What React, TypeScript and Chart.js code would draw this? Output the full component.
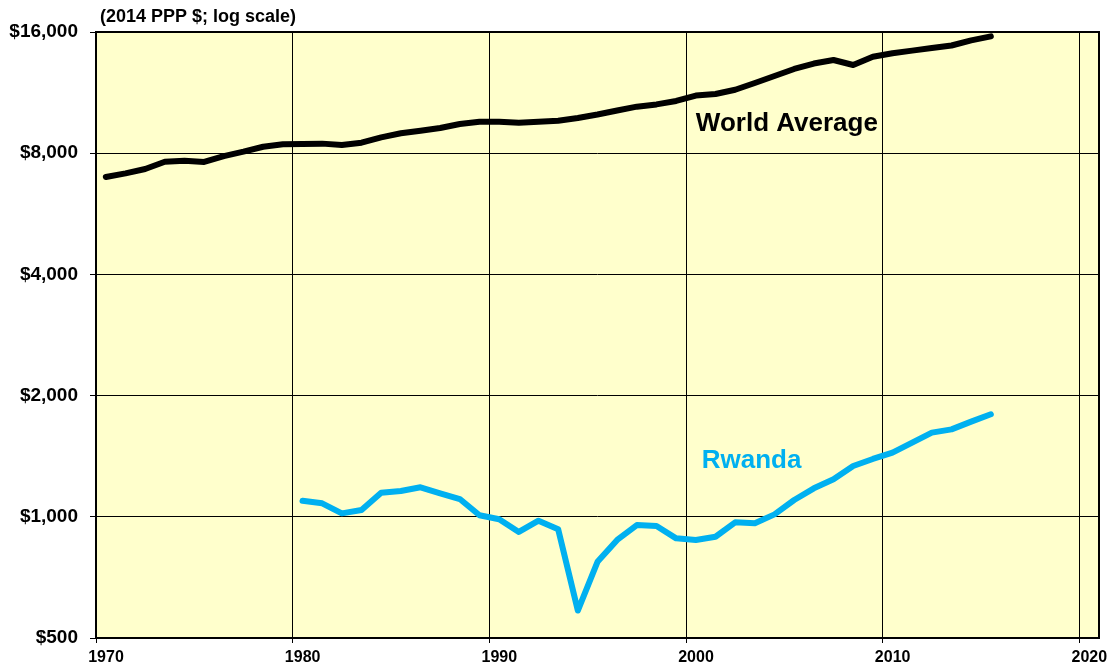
import React, { useEffect, useRef } from "react";
import { Chart, registerables } from "chart.js";

Chart.register(...registerables);

const years: number[] = [
  1970.5, 1971.5, 1972.5, 1973.5, 1974.5, 1975.5, 1976.5, 1977.5, 1978.5, 1979.5,
  1980.5, 1981.5, 1982.5, 1983.5, 1984.5, 1985.5, 1986.5, 1987.5, 1988.5, 1989.5,
  1990.5, 1991.5, 1992.5, 1993.5, 1994.5, 1995.5, 1996.5, 1997.5, 1998.5, 1999.5,
  2000.5, 2001.5, 2002.5, 2003.5, 2004.5, 2005.5, 2006.5, 2007.5, 2008.5, 2009.5,
  2010.5, 2011.5, 2012.5, 2013.5, 2014.5, 2015.5,
];

const worldAverage: number[] = [
  6980, 7130, 7310, 7620, 7665, 7610, 7870, 8070, 8300, 8420,
  8430, 8450, 8385, 8495, 8760, 8965, 9100, 9240, 9455, 9580,
  9580, 9525, 9580, 9635, 9785, 9980, 10210, 10440, 10575, 10785,
  11125, 11225, 11500, 11950, 12440, 12950, 13360, 13630, 13250, 13890,
  14165, 14385, 14600, 14810, 15250, 15610,
];

const rwandaYears: number[] = [
  1980.5, 1981.5, 1982.5, 1983.5, 1984.5, 1985.5, 1986.5, 1987.5, 1988.5, 1989.5,
  1990.5, 1991.5, 1992.5, 1993.5, 1994.5, 1995.5, 1996.5, 1997.5, 1998.5, 1999.5,
  2000.5, 2001.5, 2002.5, 2003.5, 2004.5, 2005.5, 2006.5, 2007.5, 2008.5, 2009.5,
  2010.5, 2011.5, 2012.5, 2013.5, 2014.5, 2015.5,
];

const rwanda: number[] = [
  1096, 1080, 1020, 1040, 1148, 1159, 1184, 1144, 1107, 1009,
  986, 917, 978, 931, 585, 773, 876, 954, 949, 884,
  876, 892, 969, 964, 1014, 1101, 1177, 1239, 1337, 1392,
  1443, 1528, 1618, 1649, 1723, 1797,
];

const yTicks: number[] = [500, 1000, 2000, 4000, 8000, 16000];
const xTicks: number[] = [1970, 1980, 1990, 2000, 2010, 2020];

const titleText = "(2014 PPP $; log scale)";
const worldLabel = { text: "World Average", x: 2000.5, y: 9455 };
const rwandaLabel = { text: "Rwanda", x: 2000.8, y: 1376 };

const FONT = "'Liberation Sans', Arial, Helvetica, sans-serif";
const BLUE = "#00B0F0";

export default function App() {
  const ref = useRef<HTMLCanvasElement | null>(null);

  useEffect(() => {
    if (!ref.current) return;
    const bgPlugin = {
      id: "bgFrame",
      beforeDraw(chart: any) {
        const { ctx, chartArea } = chart;
        ctx.save();
        ctx.fillStyle = "#FFFFCC";
        ctx.fillRect(chartArea.left, chartArea.top, chartArea.right - chartArea.left, chartArea.bottom - chartArea.top);
        ctx.restore();
      },
      beforeDatasetsDraw(chart: any) {
        const { ctx, chartArea } = chart;
        ctx.save();
        ctx.strokeStyle = "#000";
        ctx.lineWidth = 2;
        ctx.strokeRect(chartArea.left, chartArea.top, chartArea.right - chartArea.left, chartArea.bottom - chartArea.top);
        ctx.restore();
      },
      afterDraw(chart: any) {
        const { ctx, scales } = chart;
        ctx.save();
        ctx.fillStyle = "#000";
        ctx.font = `bold 18px ${FONT}`;
        ctx.textBaseline = "middle";
        ctx.textAlign = "left";
        ctx.fillText(titleText, 100, 17);
        ctx.font = `bold 26px ${FONT}`;
        ctx.fillText(worldLabel.text, scales.x.getPixelForValue(worldLabel.x), scales.y.getPixelForValue(worldLabel.y));
        ctx.fillStyle = BLUE;
        ctx.fillText(rwandaLabel.text, scales.x.getPixelForValue(rwandaLabel.x), scales.y.getPixelForValue(rwandaLabel.y));
        ctx.restore();
      },
    };

    const chart = new Chart(ref.current, {
      type: "line",
      data: {
        datasets: [
          {
            label: "World Average",
            data: years.map((x, i) => ({ x, y: worldAverage[i] })),
            borderColor: "#000",
            borderWidth: 6,
            pointRadius: 0,
            tension: 0,
            borderCapStyle: "round",
            borderJoinStyle: "round",
          },
          {
            label: "Rwanda",
            data: rwandaYears.map((x, i) => ({ x, y: rwanda[i] })),
            borderColor: BLUE,
            borderWidth: 6,
            pointRadius: 0,
            tension: 0,
            borderCapStyle: "round",
            borderJoinStyle: "round",
          },
        ],
      },
      options: {
        responsive: false,
        animation: false,
        layout: { padding: { top: 32, right: 14, left: 0, bottom: 0 } },
        plugins: { legend: { display: false }, tooltip: { enabled: false }, title: { display: false } },
        scales: {
          x: {
            type: "linear",
            min: 1970,
            max: 2021,
            afterBuildTicks: (s: any) => {
              s.ticks = xTicks.map((v) => ({ value: v }));
            },
            afterFit: (s: any) => {
              s.height = 28;
            },
            grid: { color: "#000", lineWidth: 1, tickLength: 5, tickColor: "#000" },
            border: { display: false },
            ticks: {
              color: "#000",
              font: { family: FONT, size: 16, weight: "bold" },
              padding: 5,
              labelOffset: 10,
              maxRotation: 0,
              autoSkip: false,
              callback: (v: any) => String(v),
            },
          },
          y: {
            type: "logarithmic",
            min: 500,
            max: 16000,
            afterBuildTicks: (s: any) => {
              s.ticks = yTicks.map((v) => ({ value: v }));
            },
            afterFit: (s: any) => {
              s.width = 96;
            },
            grid: { color: "#000", lineWidth: 1, tickLength: 6, tickColor: "#000" },
            border: { display: false },
            ticks: {
              color: "#000",
              font: { family: FONT, size: 19, weight: "bold" },
              padding: 12,
              autoSkip: false,
              callback: (v: any) => "$" + Number(v).toLocaleString("en-US"),
            },
          },
        },
      },
      plugins: [bgPlugin],
    } as any);
    return () => chart.destroy();
  }, []);

  return (
    <div style={{ position: "absolute", left: 0, top: 0, width: 1113, height: 666, background: "#fff" }}>
      <canvas ref={ref} width={1113} height={666} style={{ display: "block", width: 1113, height: 666 }} />
    </div>
  );
}
